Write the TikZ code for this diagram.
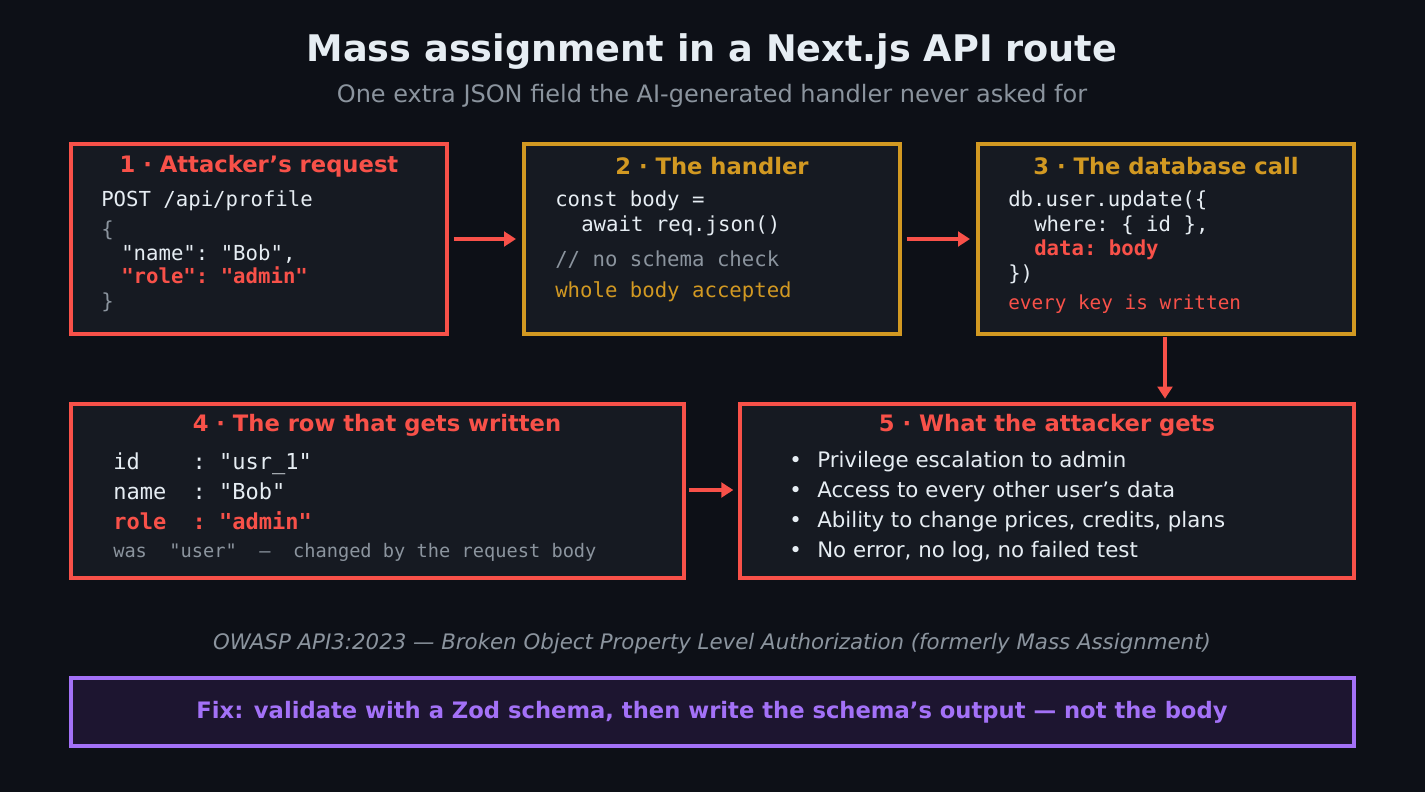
\documentclass[tikz,border=0pt]{standalone}
\usepackage{fontspec}
\setmainfont{DejaVu Sans}
\setmonofont{DejaVu Sans Mono}
\usetikzlibrary{arrows.meta}
\definecolor{bg}{HTML}{0D1017}
\definecolor{boxbg}{HTML}{161A22}
\definecolor{red}{HTML}{F85149}
\definecolor{yel}{HTML}{D29922}
\definecolor{pur}{HTML}{A371F7}
\definecolor{fixbg}{HTML}{1D1530}
\definecolor{wht}{HTML}{E6EDF3}
\definecolor{gry}{HTML}{8B949E}
\begin{document}
\begin{tikzpicture}[x=0.75pt,y=-0.75pt,
  box/.style={draw=#1,line width=2.4pt,fill=boxbg},
  head/.style={font=\fontsize{17}{20}\selectfont\bfseries,text=#1,anchor=center},
  code/.style={font=\fontsize{15.5}{18}\ttfamily,text=wht,anchor=west,inner sep=0pt,text height=1.6ex,text depth=.4ex},
  big/.style={code,font=\fontsize{16.5}{19}\ttfamily},
  small/.style={code,font=\fontsize{14}{16}\ttfamily,text=gry},
  bul/.style={font=\fontsize{16}{19}\selectfont,text=wht,anchor=west,inner sep=0pt,text height=1.6ex,text depth=.4ex},
  arr/.style={draw=red,line width=2.4pt,-{Triangle[length=9pt,width=11pt]}}]
\fill[bg] (0,0) rectangle (1425,792);
\node[font=\fontsize{27.5}{32}\selectfont\bfseries,text=wht] (title) at (712,52) {Mass assignment in a Next.js API route};
\node[font=\fontsize{18}{22}\selectfont,text=gry] (sub) at (712,96) {One extra JSON field the AI-generated handler never asked for};
% box1
\draw[box=red] (71,144) rectangle (447,334);
\coordinate (b1e) at (447,239);
\node[head=red] (h1) at (259,166) {1 · Attacker's request};
\node[code] (l11) at (101,202) {POST /api/profile};
\node[code,text=gry] (l12) at (101,232) {\{};
\node[code] (l13) at (121,256) {"name": "Bob",};
\node[code,text=red,font=\fontsize{15.5}{18}\ttfamily\bfseries] (l14) at (121,279) {"role": "admin"};
\node[code,text=gry] (l15) at (101,304) {\}};
% box2
\draw[box=yel] (524,144) rectangle (900,334);
\coordinate (b2w) at (524,239); \coordinate (b2e) at (900,239);
\node[head=yel] (h2) at (712,166) {2 · The handler};
\node[code] (l21) at (555,202) {const body =};
\node[code] (l22) at (581,227) {await req.json()};
\node[code,text=gry] (l23) at (555,262) {// no schema check};
\node[code,text=yel] (l24) at (555,293) {whole body accepted};
% box3
\draw[box=yel] (978,144) rectangle (1354,334);
\coordinate (b3w) at (978,239); \coordinate (b3s) at (1165,334);
\node[head=yel] (h3) at (1166,166) {3 · The database call};
\node[code] (l31) at (1008,202) {db.user.update(\{};
\node[code] (l32) at (1034,227) {where: \{ id \},};
\node[code,text=red,font=\fontsize{15.5}{18}\ttfamily\bfseries] (l33) at (1034,251) {data: body};
\node[code] (l34) at (1008,276) {\})};
\node[code,text=red,font=\fontsize{14.5}{17}\ttfamily] (l35) at (1008,305) {every key is written};
% box4
\draw[box=red] (71,404) rectangle (684,578);
\coordinate (b4e) at (684,490);
\node[head=red] (h4) at (377,425) {4 · The row that gets written};
\node[big] (l41) at (113,465) {id\ \ \ \ : "usr\_1"};
\node[big] (l42) at (113,495) {name\ \ : "Bob"};
\node[big,text=red,font=\fontsize{16.5}{19}\ttfamily\bfseries] (l43) at (113,525) {role\ \ : "admin"};
\node[small] (l44) at (113,553) {was\ \ "user"\ \ —\ \ changed by the request body};
% box5
\draw[box=red] (740,404) rectangle (1354,578);
\coordinate (b5w) at (740,490); \coordinate (b5n) at (1165,404);
\node[head=red] (h5) at (1047,425) {5 · What the attacker gets};
\foreach \t [count=\i] in {Privilege escalation to admin,Access to every other user's data,{Ability to change prices, credits, plans},{No error, no log, no failed test}}{
  \node[bul] (d\i) at (789,{433+30*\i}) {•};
  \node[bul] (t\i) at (817,{433+30*\i}) {\t};
}
% arrows
\draw[arr] ([xshift=5pt]b1e) -- ([xshift=-6pt]b2w);
\draw[arr] ([xshift=5pt]b2e) -- ([xshift=-6pt]b3w);
\draw[arr] ([yshift=-2pt]b3s) -- ([yshift=4pt]b5n);
\draw[arr] ([xshift=4pt]b4e) -- ([xshift=-5pt]b5w);
% footer
\node[font=\fontsize{16}{19}\selectfont\itshape,text=gry] (foot) at (712,644) {OWASP API3:2023 — Broken Object Property Level Authorization (formerly Mass Assignment)};
\draw[draw=pur,line width=2.4pt,fill=fixbg] (71,678) rectangle (1354,746);
\node[font=\fontsize{17}{20}\selectfont\bfseries,text=pur] (fix) at (712,712) {Fix: validate with a Zod schema, then write the schema's output — not the body};
\end{tikzpicture}
\end{document}
